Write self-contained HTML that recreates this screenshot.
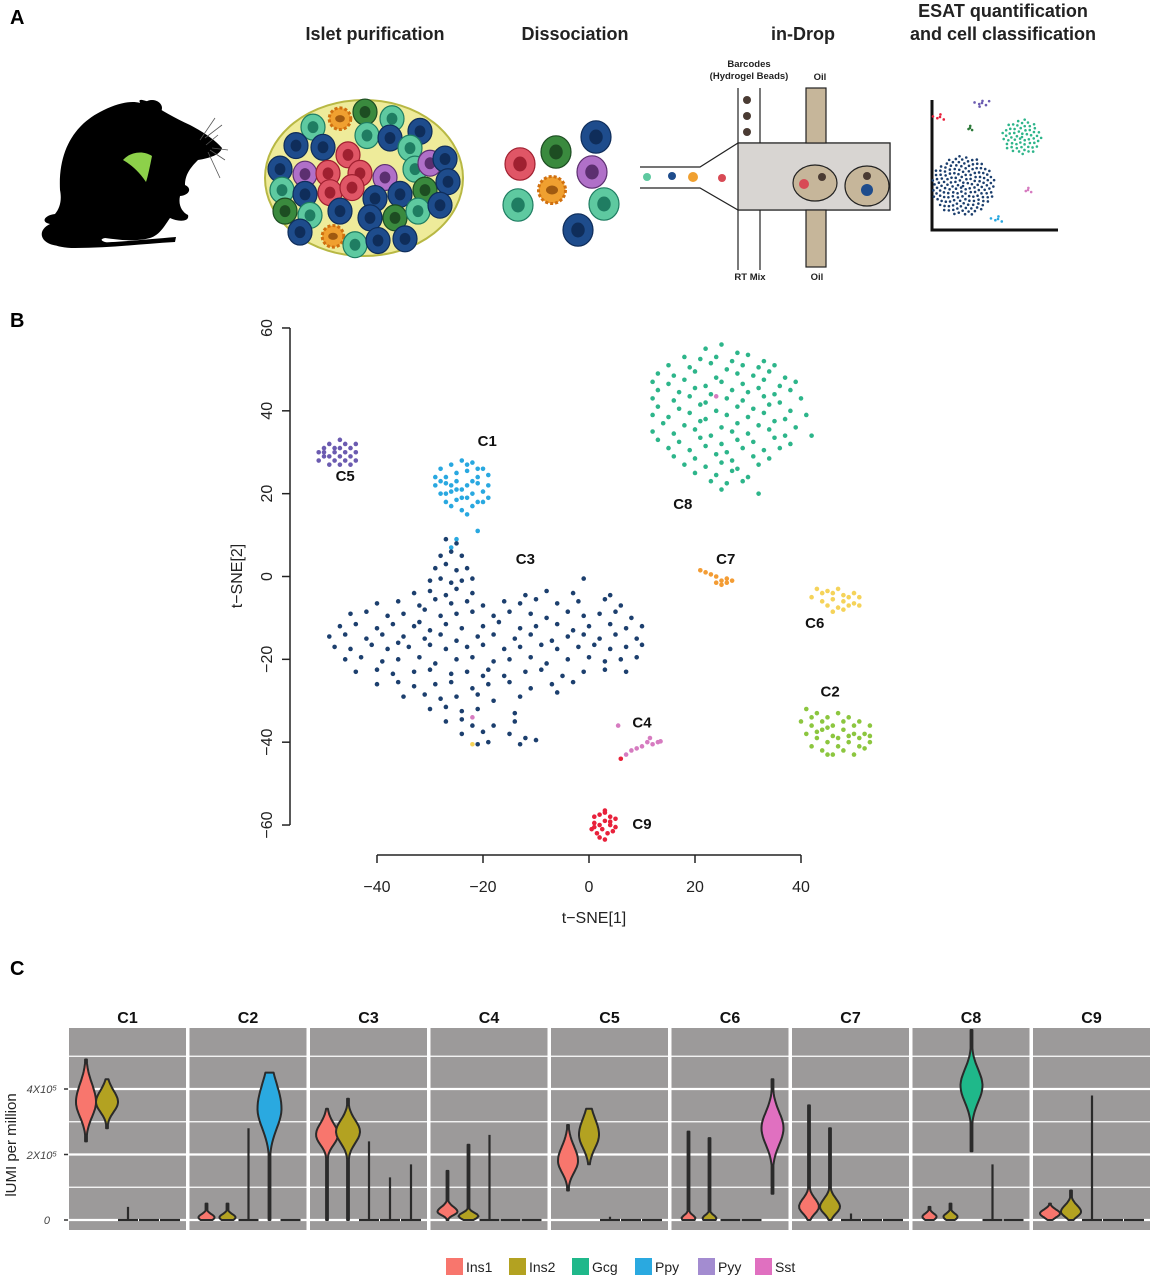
<!DOCTYPE html>
<html><head><meta charset="utf-8">
<style>
html,body{margin:0;padding:0;background:#fff;}
svg{display:block;font-family:"Liberation Sans",Arial,sans-serif;}
.t{font-weight:bold;}
</style></head>
<body>
<svg id="fig" width="1154" height="1280" viewBox="0 0 1154 1280" xmlns="http://www.w3.org/2000/svg">
<text x="10" y="24" font-size="20" class="t">A</text>
<text x="10" y="327" font-size="20" class="t">B</text>
<text x="10" y="975" font-size="20" class="t">C</text>

<g font-size="18" class="t" text-anchor="middle" fill="#222">
<text x="375" y="40">Islet purification</text>
<text x="575" y="40">Dissociation</text>
<text x="803" y="40">in-Drop</text>
<text x="1003" y="17">ESAT quantification</text>
<text x="1003" y="40">and cell classification</text>
</g>

<g>
<path d="M60,190 C58,150 75,125 100,112 C115,104 130,100 140,103 C138,98 142,100 150,102 C160,110 175,118 190,125 C205,133 215,140 222,148 C220,155 210,158 198,160 C190,168 185,175 185,185 C192,188 190,195 180,196 C178,205 182,212 188,215 C190,222 178,222 170,218 C165,225 160,235 150,238 C135,242 120,240 105,238 C95,240 110,245 115,242 C80,245 60,248 50,244 C40,240 38,230 50,224 C40,222 45,215 55,214 C60,208 62,200 60,190 Z" fill="#000"/>
<path d="M50,225 C40,235 45,248 75,248 C110,248 140,244 175,242 L176,237 C140,240 110,243 80,243 C55,243 48,236 55,228 Z" fill="#000"/>
<ellipse cx="152" cy="108" rx="10" ry="8" fill="#000"/>
<path d="M123,160 C130,152 143,150 152,156 C150,166 148,176 146,182 C138,170 130,164 123,160 Z" fill="#8dd14a"/>
<g stroke="#555" stroke-width="0.8" fill="none"><path d="M200,140 L215,118"/><path d="M205,138 L222,125"/><path d="M210,150 L225,160"/><path d="M208,152 L220,178"/><path d="M212,148 L228,150"/><path d="M206,145 L218,135"/></g>
</g>

<g>
<ellipse cx="364" cy="178" rx="99" ry="78" fill="#eeeb9a" stroke="#b8b844" stroke-width="2"/>
<g id="isletCells"></g>
</g>
<g id="dissCells"></g>

<g stroke="#222" stroke-width="1.2">
<path d="M640,167 L700,167 L738,143 L890,143 L890,210 L738,210 L700,188 L640,188" fill="#fff"/>
<rect x="738" y="143" width="152" height="67" fill="#d8d5d2"/>
<line x1="738" y1="88" x2="738" y2="143"/><line x1="760" y1="88" x2="760" y2="143"/>
<line x1="738" y1="210" x2="738" y2="270"/><line x1="760" y1="210" x2="760" y2="270"/>
<rect x="806" y="88" width="20" height="55" fill="#c6b69a"/>
<rect x="806" y="210" width="20" height="57" fill="#c6b69a"/>
<ellipse cx="815" cy="183" rx="22" ry="18" fill="#c6b69a"/>
<ellipse cx="867" cy="186" rx="22" ry="20" fill="#c6b69a"/>
<g stroke="none">
<circle cx="747" cy="100" r="4" fill="#4a3b33"/><circle cx="747" cy="116" r="4" fill="#4a3b33"/><circle cx="747" cy="132" r="4" fill="#4a3b33"/>
<circle cx="822" cy="177" r="4" fill="#4a3b33"/><circle cx="804" cy="184" r="5" fill="#d84a55"/>
<circle cx="867" cy="176" r="4" fill="#4a3b33"/><circle cx="867" cy="190" r="6" fill="#1e4c8c"/>
<circle cx="647" cy="177" r="4" fill="#5ec9a0"/><circle cx="672" cy="176" r="4" fill="#1e4c8c"/><circle cx="693" cy="177" r="5" fill="#f0a030"/><circle cx="722" cy="178" r="4" fill="#d84a55"/>
</g>
</g>
<g font-size="9.5" class="t" text-anchor="middle" fill="#222">
<text x="749" y="67">Barcodes</text>
<text x="749" y="79">(Hydrogel Beads)</text>
<text x="820" y="80">Oil</text>
<text x="750" y="280">RT Mix</text>
<text x="817" y="280">Oil</text>
</g>

<g>
<path d="M932,100 L932,230 L1058,230" stroke="#111" stroke-width="3" fill="none"/>
<g id="miniPts"></g>
</g>

<g id="scatter"></g>

<g id="violins"></g>
<text transform="translate(16,1145) rotate(-90)" text-anchor="middle" font-size="15" fill="#222">lUMI per million</text>
<text x="57" y="1093" text-anchor="end" font-size="11" font-style="italic" fill="#444">4X10⁵</text>
<text x="57" y="1159" text-anchor="end" font-size="11" font-style="italic" fill="#444">2X10⁵</text>
<text x="50" y="1224" text-anchor="end" font-size="11" font-style="italic" fill="#444">0</text>
<g id="legend"></g>
</svg>

<script>
const NS="http://www.w3.org/2000/svg";
function mk(tag,attrs,parent){const e=document.createElementNS(NS,tag);for(const k in attrs)e.setAttribute(k,attrs[k]);parent.appendChild(e);return e;}

const cellCol={b:["#1e4c8c","#0f2d5a"],t:["#5ec9a0","#1f7d62"],g:["#3a8a3e","#1d4d22"],r:["#e05666","#a02030"],p:["#b070c8","#5c2f70"],o:["#f0a030","#a05a10"]};
function cell(g,x,y,r,c){
  const col=cellCol[c];
  if(c==="o"){mk("circle",{cx:x,cy:y,r:r*0.9,fill:col[0],stroke:"#d07010","stroke-width":3,"stroke-dasharray":"3 2"},g);mk("ellipse",{cx:x,cy:y,rx:r*0.4,ry:r*0.3,fill:col[1]},g);return;}
  mk("ellipse",{cx:x,cy:y,rx:r,ry:r*1.08,fill:col[0],stroke:col[1],"stroke-width":1.2},g);
  mk("ellipse",{cx:x,cy:y,rx:r*0.45,ry:r*0.5,fill:col[1]},g);
}
const isletCellList=[[313,150,"t"],[340,140,"o"],[365,132,"g"],[392,140,"t"],[296,172,"b"],[323,174,"b"],[348,183,"r"],[367,160,"t"],[390,163,"b"],[420,155,"b"],[410,175,"t"],[280,200,"b"],[305,206,"p"],[328,205,"r"],[360,205,"r"],[385,210,"p"],[415,200,"t"],[430,193,"p"],[445,188,"b"],[282,225,"t"],[305,230,"b"],[330,228,"r"],[352,222,"r"],[375,235,"b"],[400,230,"b"],[425,225,"g"],[448,215,"b"],[285,250,"g"],[310,255,"t"],[340,250,"b"],[370,258,"b"],[395,258,"g"],[418,250,"t"],[440,243,"b"],[300,275,"b"],[333,280,"o"],[355,290,"t"],[378,285,"b"],[405,283,"b"]];
const ig=document.getElementById("isletCells");
isletCellList.forEach(c=>cell(ig,c[0],112+(c[1]-132)*0.84,12,c[2]));
const dg=document.getElementById("dissCells");
[[520,164,"r"],[556,152,"g"],[596,137,"b"],[592,172,"p"],[552,190,"o"],[518,205,"t"],[604,204,"t"],[578,230,"b"]].forEach(c=>cell(dg,c[0],c[1],15,c[2]));
const mp=document.getElementById("miniPts");
[[940,117,8,4,"#e8213b"],[982,103,10,4,"#6b5bb0"],[970,128,4,3,"#2d7a3a"],[1022,137,20,18,"#2db58a"],[963,186,32,30,"#1c3f6e"],[1028,190,6,3,"#d67bc0"],[998,219,8,4,"#29a8e0"]].forEach(b=>{
  const n=Math.max(4,Math.round(b[2]*b[3]/6));
  for(let i=0;i<n;i++){const a=i*2.39996,rr=Math.sqrt(i/n);mk("circle",{cx:b[0]+Math.cos(a)*rr*b[2],cy:b[1]+Math.sin(a)*rr*b[3],r:1.3,fill:b[4]},mp);}
});

const clusterNames=["C1","C2","C3","C4","C5","C6","C7","C8","C9"];
const clusterColors=["#29a8e0","#8cc63f","#1c3f6e","#d67bc0","#6b5bb0","#f5d35a","#f39c34","#2db58a","#e8213b"];
const ptsC1="-28,26 -26,27 -24,28 -22,27.5 -20,26 -27,24 -25,25 -23,25.5 -21,24 -19,24.5 -29,22 -27,22.5 -25,23 -23,22 -21,22.5 -19,22 -28,20 -26,20.5 -24,21 -22,20 -20,20.5 -27,18 -25,18.5 -23,19 -21,18 -19,19 -26,17 -24,16 -22,17 -23,15 -29,24 -28,23 -26,22 -24,19 -22,23 -20,18 -25,21 -27,20 -21,26 -23,27 -21,11 -25,9 -26,7";
const ptsC2="41,-32 43,-33 45,-34 47,-33 49,-34 51,-35 53,-36 40,-35 42,-36 44,-37 46,-36 48,-37 50,-38 52,-38 41,-38 43,-39 45,-40 47,-39 49,-40 51,-41 53,-40 42,-41 44,-42 46,-43 48,-42 50,-43 44,-35 46,-38.5 48,-35 50,-36 52,-41.5 43,-37.5 47,-41 49,-38.5 45,-43 51,-39 53,-38.5 42,-34 45,-36.5";
const ptsC3="-27,9 -25,8 -28,5 -26,6 -24,5 -29,2 -27,3 -25,1.5 -23,2 -30,-1 -28,-0.5 -26,-1.5 -24,-1 -22,-0.5 -33,-4 -30,-3.5 -27,-4.5 -25,-3 -22,-4 -12,-4.5 -8,-3.5 -3,-4 -1,-0.5 4,-4.5 -40,-6.5 -36,-6 -32,-7 -29,-5.5 -26,-6.5 -23,-6 -20,-7 -16,-6 -13,-6.5 -10,-5.5 -6,-6.5 -2,-6 3,-5.5 6,-7 -45,-9 -42,-8.5 -38,-9.5 -35,-9 -31,-8 -28,-9.5 -25,-9 -22,-8.5 -18,-9.5 -15,-8.5 -11,-9 -8,-10 -4,-8.5 -1,-9.5 2,-9 5,-8.5 8,-10 -47,-12 -44,-11.5 -40,-12.5 -37,-11.5 -33,-12 -30,-13 -27,-11.5 -24,-12.5 -20,-12 -17,-11 -13,-12.5 -10,-12 -6,-11.5 -3,-13 0,-12 4,-11.5 7,-12.5 10,-12 -49,-14.5 -46,-14 -42,-15 -39,-14 -35,-14.5 -31,-15 -28,-14 -25,-15.5 -21,-14.5 -18,-14 -14,-15 -11,-14 -7,-15.5 -4,-14.5 -1,-14 2,-15 5,-14 9,-15 -48,-17 -45,-17.5 -41,-16.5 -38,-17.5 -34,-17 -30,-16.5 -27,-17.5 -23,-17 -20,-16.5 -16,-17.5 -13,-17 -9,-16.5 -6,-17.5 -2,-17 1,-16.5 4,-17.5 7,-17 10,-16.5 -46,-20 -43,-19.5 -39,-20.5 -36,-20 -32,-19.5 -29,-21 -25,-20 -22,-19.5 -18,-20.5 -15,-20 -11,-19.5 -8,-21 -4,-20 0,-19.5 3,-20.5 6,-20 9,-19.5 -44,-23 -40,-22.5 -37,-23.5 -33,-23 -30,-22.5 -26,-23.5 -23,-23 -19,-22.5 -16,-24 -12,-23 -9,-22.5 -5,-24 -1,-23 3,-22.5 7,-23 -40,-26 -36,-25.5 -33,-26.5 -29,-26 -26,-25.5 -22,-27 -19,-26 -15,-25.5 -11,-27 -7,-26 -3,-25.5 -35,-29 -31,-28.5 -28,-29.5 -25,-29 -21,-28.5 -18,-30 -13,-29 -30,-32 -27,-31.5 -24,-32.5 -21,-32 -27,-35 -24,-34.5 -22,-36 -14,-35 -24,-38 -20,-37.5 -15,-38 -12,-39 -21,-40.5 -19,-40 -13,-40.5 -10,-39.5 -32,-11 -36,-16 -20,-24 -6,-28 -14,-33 -18,-36";
const ptsC4="5.5,-36 7,-43 8,-42 9,-41.5 10,-41 11,-40 11.5,-39 12,-40.5 13,-40 13.5,-39.8 -22,-34";
const ptsC5="-51,30 -50,31 -49,32 -48,31 -47,33 -46,32 -45,31 -44,30 -50,29 -49,29 -48,28 -47,29 -46,28 -45,29 -44,28 -49,27 -47,27 -45,27 -51,28 -46,30 -48,30 -44,32 -47,31 -50,30";
const ptsC6="43,-3 44,-4 45,-3.5 46,-4 47,-3 48,-4.5 49,-5 50,-4 51,-5 42,-5 44,-6 46,-5.5 48,-6 50,-6.5 45,-7 47,-7.5 49,-7 51,-7 46,-8.5 48,-8 -22,-40.5";
const ptsC7="21,1.5 22,1 23,0.5 24,0 24,-1.5 25,-1 26,-0.5 25,-2 26,-1.5 27,-1";
const ptsC8="22,55 25,56 28,54 18,53 21,52.5 24,53 27,52 30,53.5 33,52 15,51 19,50.5 23,51.5 26,50 29,51 32,50.5 35,51 13,49 16,48.5 20,49.5 24,48 28,49 31,48.5 34,49.5 37,48 12,47 15,46.5 18,47.5 22,46 25,47 29,46.5 33,47.5 36,46 39,47 13,45 17,44.5 20,45.5 23,44 27,45 30,44.5 32,45.5 35,44 38,45 12,43 16,42.5 19,43.5 22,42 26,43 29,42.5 33,43.5 36,42 40,43 13,41 17,40.5 21,41.5 24,40 28,41 31,40.5 34,41.5 38,40 12,39 15,38.5 19,39.5 22,38 26,39 30,38.5 33,39.5 37,38 41,39 14,37 18,36.5 21,37.5 25,36 28,37 32,36.5 35,37.5 39,36 12,35 16,34.5 20,35.5 23,34 27,35 30,34.5 34,35.5 37,34 42,34 13,33 17,32.5 21,33.5 25,32 28,33 31,32.5 35,33.5 38,32 15,31 19,30.5 22,31.5 26,30 29,31 33,30.5 36,31 16,29 20,28.5 24,29.5 27,28 31,29 34,28.5 18,27 22,26.5 25,27.5 28,26 32,27 20,25 24,24.5 27,25.5 30,24 23,23 26,22.5 29,23 25,21 32,20";
const ptsC9="1,-58 2,-57.5 3,-57 4,-58 5,-58.5 1,-59.5 2,-60 3,-59 4,-60 5,-60.5 0.5,-61 1.5,-62 2.5,-61 3.5,-62 4.5,-61.5 2,-63 3,-63.5 3,-56.5 1,-60.5 4,-59.2 6,-44";
const clusterPoints=[ptsC1,ptsC2,ptsC3,ptsC4,ptsC5,ptsC6,ptsC7,ptsC8,ptsC9];
const clusterLabelPos=[[-19.2,31.5],[45.5,-29],[-12,3],[10,-36.5],[-46,23],[42.6,-12.4],[25.8,3],[17.7,16.3],[10,-61]];
const xTicks=[-40,-20,0,20,40];
const yTicks=[-60,-40,-20,0,20,40,60];

const sx=v=>589+v*5.3;
const sy=v=>576.5-v*4.142;
const sc=document.getElementById("scatter");
let el;
el=mk("line",{x1:290,y1:sy(60),x2:290,y2:sy(-60),stroke:"#222","stroke-width":1.5},sc);


el=mk("line",{x1:sx(-40),y1:855,x2:sx(40),y2:855,stroke:"#222","stroke-width":1.5},sc);


yTicks.forEach(t=>{
  mk("line",{x1:282,y1:sy(t),x2:290,y2:sy(t),stroke:"#222","stroke-width":1.5},sc);
  const tx=mk("text",{transform:`translate(272,${sy(t)}) rotate(-90)`,"text-anchor":"middle","font-size":16,fill:"#222"},sc);
  tx.textContent=t<0?"\u2212"+(-t):String(t);
  
  
});
xTicks.forEach(t=>{
  mk("line",{x1:sx(t),y1:855,x2:sx(t),y2:863,stroke:"#222","stroke-width":1.5},sc);
  const tx=mk("text",{x:sx(t),y:892,"text-anchor":"middle","font-size":16,fill:"#222"},sc);
  tx.textContent=t<0?"\u2212"+(-t):String(t);
  
  
});
el=mk("text",{x:594,y:923,"text-anchor":"middle","font-size":16,fill:"#222"},sc);
el.textContent="t\u2212SNE[1]";


el=mk("text",{transform:"translate(242,576) rotate(-90)","text-anchor":"middle","font-size":16,fill:"#222"},sc);
el.textContent="t\u2212SNE[2]";


clusterPoints.forEach((s,ci)=>{
  const g=mk("g",{},sc);
  
  
  s.trim().split(/\s+/).forEach(p=>{const [x,y]=p.split(",").map(Number);
    const c=mk("circle",{cx:sx(x),cy:sy(y),r:2.3,fill:clusterColors[ci]},g);
    
    
  });
  const lp=clusterLabelPos[ci];
  const t=mk("text",{x:sx(lp[0]),y:sy(lp[1]),"text-anchor":"middle","font-size":15,"font-weight":"bold",fill:"#111"},sc);
  t.textContent=clusterNames[ci];
  
  
});
mk("circle",{cx:sx(24),cy:sy(43.5),r:2.3,fill:"#d67bc0"},sc);

const genes=["Ins1","Ins2","Gcg","Ppy","Pyy","Sst"];
const geneColors=["#f8766d","#b3a221","#1fb88a","#2aa9e0","#a38cd0","#e070c0"];
const slotGenes=[0,1,2,3,5];
// per slot: [min, max, mode, halfWidthPx, spreadUp, spreadDown] (values in 1e5)
const vC1=[[2.4,4.9,3.6,10,0.55,0.45],[2.8,4.3,3.6,11,0.35,0.3],[0,0.4,0,0,0,0],[0,0,0,0,0,0],[0,0,0,0,0,0]];
const vC2=[[0,0.5,0.08,8,0.1,0.1],[0,0.5,0.08,8,0.1,0.1],[0,2.8,0,0,0,0],[0,4.5,3.4,12,0.75,0.6],[0,0,0,0,0,0]];
const vC3=[[0,3.4,2.6,11,0.35,0.3],[0,3.7,2.7,12,0.35,0.35],[0,2.4,0,0,0,0],[0,1.3,0,0,0,0],[0,1.7,0,0,0,0]];
const vC4=[[0,1.5,0.25,10,0.15,0.1],[0,2.3,0.12,10,0.1,0.1],[0,2.6,0,0,0,0],[0,0,0,0,0,0],[0,0,0,0,0,0]];
const vC5=[[0.9,2.9,1.8,10,0.45,0.35],[1.7,3.4,2.6,10,0.5,0.4],[0,0.1,0,0,0,0],[0,0,0,0,0,0],[0,0,0,0,0,0]];
const vC6=[[0,2.7,0.05,7,0.1,0.1],[0,2.5,0.05,7,0.1,0.1],[0,0,0,0,0,0],[0,0,0,0,0,0],[0.8,4.3,2.8,11,0.5,0.5]];
const vC7=[[0,3.5,0.4,10,0.25,0.2],[0,2.8,0.4,10,0.25,0.2],[0,0.2,0,0,0,0],[0,0,0,0,0,0],[0,0,0,0,0,0]];
const vC8=[[0,0.4,0.1,7,0.1,0.1],[0,0.5,0.1,7,0.1,0.1],[2.1,5.8,4.1,11,0.5,0.5],[0,1.7,0,0,0,0],[0,0,0,0,0,0]];
const vC9=[[0,0.5,0.2,10,0.12,0.12],[0,0.9,0.25,10,0.2,0.15],[0,3.8,0,0,0,0],[0,0,0,0,0,0],[0,0,0,0,0,0]];
const violinData=[vC1,vC2,vC3,vC4,vC5,vC6,vC7,vC8,vC9];
const gridVals=[0,1,2,3,4,5];

const vy=v=>1220-v*32.75;
const vg=document.getElementById("violins");
const panelX0=69, panelW=117, panelStep=120.5, panelTop=1028, panelBottom=1230;
violinData.forEach((pd,pi)=>{
  const px=panelX0+pi*panelStep;
  const g=mk("g",{},vg);
  
  
  mk("rect",{x:px,y:panelTop,width:panelW,height:panelBottom-panelTop,fill:"#9c9a9a"},g);
  gridVals.forEach(v=>{mk("line",{x1:px,x2:px+panelW,y1:vy(v),y2:vy(v),stroke:"#fff","stroke-width":v%2===0?2.2:1.3},g);});
  const t=mk("text",{x:px+panelW/2,y:1023,"text-anchor":"middle","font-size":16,"font-weight":"bold",fill:"#111"},g);
  t.textContent=clusterNames[pi];
  
  
  pd.forEach((d,si)=>{
    const cx=px+17+si*21;
    const col=geneColors[slotGenes[si]];
    const [mn,mx,mo,w,su,sd]=d;
    if(w===0){
      const l=mk("path",{d:`M${cx-10},${vy(0)} L${cx+10},${vy(0)} M${cx},${vy(0)} L${cx},${vy(mx)}`,stroke:"#2a2a2a","stroke-width":2.2,fill:"none"},g);
      
      
      return;
    }
    const N=40, right=[], left=[];
    for(let i=0;i<=N;i++){
      const v=mn+(mx-mn)*i/N;
      const s=v>=mo?su:sd;
      const hw=Math.max(0.9,w*Math.exp(-0.5*Math.pow((v-mo)/s,2)));
      right.push(`${(cx+hw).toFixed(1)},${vy(v).toFixed(1)}`);
      left.unshift(`${(cx-hw).toFixed(1)},${vy(v).toFixed(1)}`);
    }
    const v=mk("path",{d:"M"+right.join(" L")+" L"+left.join(" L")+" Z",fill:col,stroke:"#2a2a2a","stroke-width":2,"stroke-linejoin":"round"},g);
    
    
  });
});
[0,2,4].forEach(v=>mk("line",{x1:64,x2:68,y1:vy(v),y2:vy(v),stroke:"#333","stroke-width":1.5},vg));

const lg=document.getElementById("legend");
const legX=[446,509,572,635,698,755];
genes.forEach((gname,i)=>{
  const r=mk("rect",{x:legX[i],y:1258,width:17,height:17,fill:geneColors[i]},lg);
  
  
  const t=mk("text",{x:legX[i]+20,y:1272,"font-size":14,fill:"#222"},lg);
  t.textContent=gname;
  
  
});
</script>
</body></html>
